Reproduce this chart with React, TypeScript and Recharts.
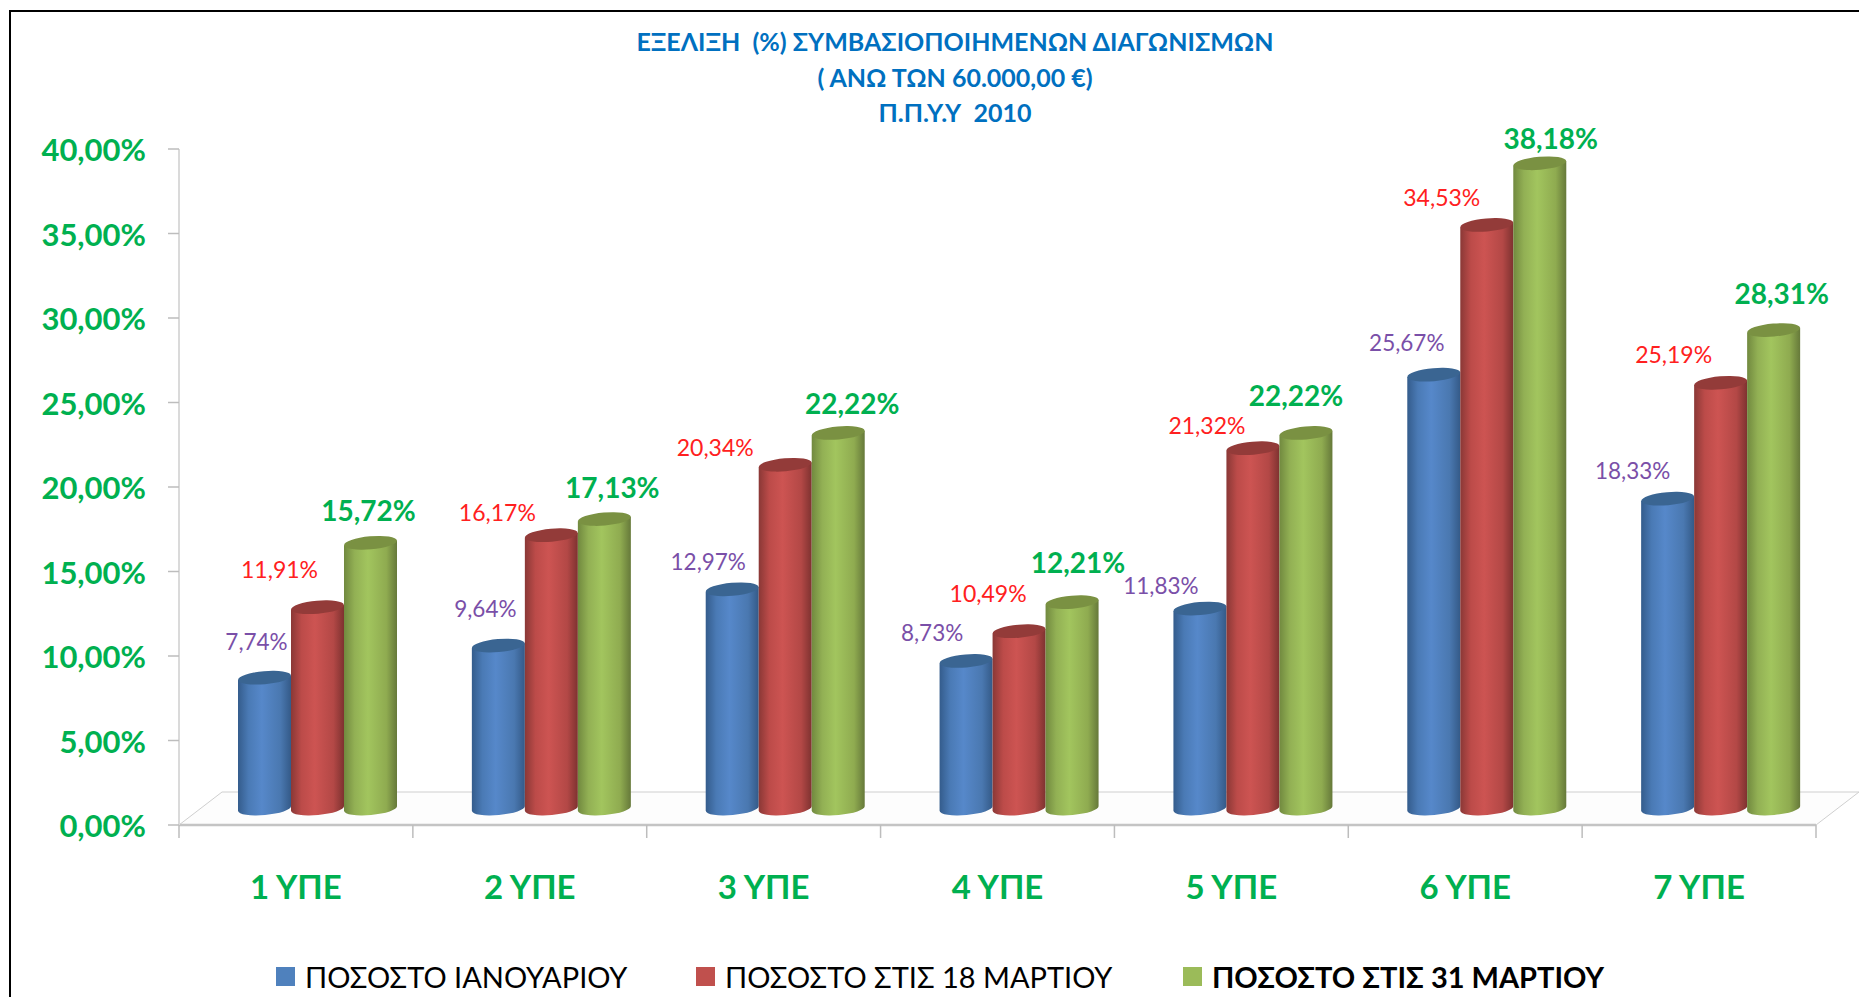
import React from "react";
import { BarChart, Bar, XAxis, YAxis, Legend, LabelList, ReferenceArea } from "recharts";

const FONT = "Lato, 'Open Sans', 'Noto Sans', sans-serif";

const categories = ["1 ΥΠΕ", "2 ΥΠΕ", "3 ΥΠΕ", "4 ΥΠΕ", "5 ΥΠΕ", "6 ΥΠΕ", "7 ΥΠΕ"];
const january = [7.74, 9.64, 12.97, 8.73, 11.83, 25.67, 18.33];
const march18 = [11.91, 16.17, 20.34, 10.49, 21.32, 34.53, 25.19];
const march31 = [15.72, 17.13, 22.22, 12.21, 22.22, 38.18, 28.31];
const yTicks = [0, 5, 10, 15, 20, 25, 30, 35, 40];
const titleLines = ["ΕΞΕΛΙΞΗ  (%) ΣΥΜΒΑΣΙΟΠΟΙΗΜΕΝΩΝ ΔΙΑΓΩΝΙΣΜΩΝ", "( ΑΝΩ ΤΩΝ 60.000,00 €)", "Π.Π.Υ.Υ  2010"];
const seriesNames = ["ΠΟΣΟΣΤΟ ΙΑΝΟΥΑΡΙΟΥ", "ΠΟΣΟΣΤΟ ΣΤΙΣ 18 ΜΑΡΤΙΟΥ", "ΠΟΣΟΣΤΟ ΣΤΙΣ 31 ΜΑΡΤΙΟΥ"];

const data = categories.map((name, i) => ({ name, january: january[i], march18: march18[i], march31: march31[i] }));

// Hand-placed data labels in the reference: nudges from each bar's scaled position
const nudgeJanuary = [[-8, -53], [-13, -54], [-24, -44], [-34, -45], [-39, -40], [-27, -49], [-35, -45]];
const nudgeMarch18 = [[-38, -55], [-54, -40], [-70, -34], [-31, -55], [-46, -40], [-45, -44], [-47, -45]];
const nudgeMarch31 = [[-2, -49], [8, -49], [14, -46], [6, -57], [-10, -54], [11, -42], [8, -54]];

const fmt = (v: number) => v.toFixed(2).replace(".", ",") + "%";
const DEPTH_X = 21;
const DEPTH_Y = 16.5;
const RY = 6.5;
const TILT = -5;

const palettes: Record<string, { id: string; stops: string[]; top: string; legend: string }> = {
  january: { id: "gBlue", stops: ["#345C8C", "#4A7AB5", "#5688CA", "#4A78B0", "#345A88"], top: "#3A6592", legend: "#4F81BD" },
  march18: { id: "gRed", stops: ["#8A3836", "#BC4B49", "#CD5452", "#B34846", "#7E3230"], top: "#933B39", legend: "#C0504D" },
  march31: { id: "gGreen", stops: ["#71893F", "#92B054", "#A2C55E", "#8FAB50", "#66793A"], top: "#7A9142", legend: "#9BBB59" },
};
const offsets = [0, 0.2, 0.45, 0.8, 1];

function Cylinder(props: any) {
  const { x, y, width, height, pal } = props;
  const p = palettes[pal];
  const left = x + DEPTH_X;
  const rx = width / 2;
  const cx = left + rx;
  const topY = y - DEPTH_Y;
  const baseY = y + height - DEPTH_Y;
  const d = rx * Math.tan((-TILT * Math.PI) / 180);
  const body = `M${left},${topY + d} L${left},${baseY + d} A${rx},${RY} ${TILT} 0 0 ${left + width},${baseY - d} L${left + width},${topY - d} Z`;
  return (
    <g>
      <path d={body} fill={`url(#${p.id})`} />
      <ellipse cx={cx} cy={topY} rx={rx} ry={RY} fill={p.top} transform={`rotate(${TILT} ${cx} ${topY})`} />
    </g>
  );
}

function Floor(props: any) {
  const { x, y, width, height } = props;
  const bottom = y + height;
  const right = x + width;
  const dx = 43;
  const dy = 33;
  const step = width / categories.length;
  return (
    <g>
      <polygon points={`${x},${bottom} ${x + dx},${bottom - dy} ${right + dx},${bottom - dy} ${right},${bottom}`} fill="#FDFDFD" stroke="#CFCFCF" strokeWidth={1} />
      <line x1={x} x2={right} y1={bottom} y2={bottom} stroke="#C4C4C4" strokeWidth={2.5} />
      {categories.concat("").map((_, i) => (
        <line key={i} x1={x + i * step} x2={x + i * step} y1={bottom} y2={bottom + 13} stroke="#BDBDBD" strokeWidth={1.5} />
      ))}
    </g>
  );
}

function makeLabel(nudges: number[][], color: string, size: number, weight: number) {
  return function BarLabel(props: any) {
    const { x, y, width, value, index } = props;
    const [dx, dy] = nudges[index];
    return (
      <text x={x + width / 2 + DEPTH_X + dx} y={y + dy} textAnchor="middle" dominantBaseline="central" fontFamily={FONT} fontSize={size} fontWeight={weight} fill={color}>
        {fmt(value)}
      </text>
    );
  };
}

function LegendRow() {
  const lefts = [276, 696, 1183];
  const keys = ["january", "march18", "march31"];
  return (
    <div style={{ position: "relative", height: 40, width: 1859, top: -1, fontFamily: FONT, fontSize: 29, color: "#000" }}>
      {seriesNames.map((n, i) => (
        <div key={n} style={{ position: "absolute", left: lefts[i], top: 0, height: 40, display: "flex", alignItems: "center", whiteSpace: "nowrap", fontWeight: i === 2 ? 700 : 400 }}>
          <span style={{ width: 19, height: 19, background: palettes[keys[i]].legend, marginRight: 10, display: "inline-block" }} />
          {n}
        </div>
      ))}
    </div>
  );
}

function YTick(props: any) {
  const { x, y, payload } = props;
  return (
    <text x={x} y={y} textAnchor="end" dominantBaseline="central" fontFamily={FONT} fontSize={31} fontWeight={700} fill="#00B050">
      {fmt(payload.value)}
    </text>
  );
}

export default function App() {
  return (
    <div style={{ position: "absolute", left: 0, top: 0, width: 1859, height: 997, background: "#fff", overflow: "hidden" }}>
      <div style={{ position: "absolute", left: 9, top: 10, right: 0, bottom: 0, borderTop: "2.5px solid #000", borderLeft: "2.5px solid #000" }} />
      <div style={{ position: "absolute", left: 0, top: 24, width: 1910, textAlign: "center", fontFamily: FONT, fontSize: 25, fontWeight: 700, color: "#0070C0", lineHeight: "35.5px", whiteSpace: "pre" }}>
        {titleLines.map((t) => (
          <div key={t}>{t}</div>
        ))}
      </div>
      <BarChart width={1859} height={997} data={data} margin={{ top: 149, right: 43, bottom: 0, left: 0 }} barCategoryGap={38} barGap={0} style={{ position: "absolute", left: 0, top: 0 }}>
        <defs>
          {Object.values(palettes).map((p) => (
            <linearGradient key={p.id} id={p.id} x1="0" x2="1" y1="0" y2="0">
              {p.stops.map((c, i) => (
                <stop key={i} offset={offsets[i]} stopColor={c} />
              ))}
            </linearGradient>
          ))}
        </defs>
        <XAxis dataKey="name" height={132} axisLine={false} tickLine={false} tickSize={0} tickMargin={51} interval={0} tick={{ fontFamily: FONT, fontSize: 33, fontWeight: 700, fill: "#00B050" }} />
        <YAxis width={179} domain={[0, 40]} ticks={yTicks} axisLine={{ stroke: "#DADADA", strokeWidth: 2 }} tickLine={{ stroke: "#BDBDBD", strokeWidth: 1.5 }} tickSize={11} tickMargin={22} tick={<YTick />} />
        <ReferenceArea y1={0} y2={40} ifOverflow="visible" shape={<Floor />} />
        <Legend verticalAlign="bottom" height={40} content={<LegendRow />} wrapperStyle={{ left: 0, bottom: 0, width: 1859 }} />
        <Bar dataKey="january" name={seriesNames[0]} fill={palettes.january.legend} isAnimationActive={false} shape={<Cylinder pal="january" />}>
          <LabelList dataKey="january" content={makeLabel(nudgeJanuary, "#7A4FA8", 22.5, 400)} />
        </Bar>
        <Bar dataKey="march18" name={seriesNames[1]} fill={palettes.march18.legend} isAnimationActive={false} shape={<Cylinder pal="march18" />}>
          <LabelList dataKey="march18" content={makeLabel(nudgeMarch18, "#FF2020", 23, 400)} />
        </Bar>
        <Bar dataKey="march31" name={seriesNames[2]} fill={palettes.march31.legend} isAnimationActive={false} shape={<Cylinder pal="march31" />}>
          <LabelList dataKey="march31" content={makeLabel(nudgeMarch31, "#00B050", 28, 700)} />
        </Bar>
      </BarChart>
    </div>
  );
}
